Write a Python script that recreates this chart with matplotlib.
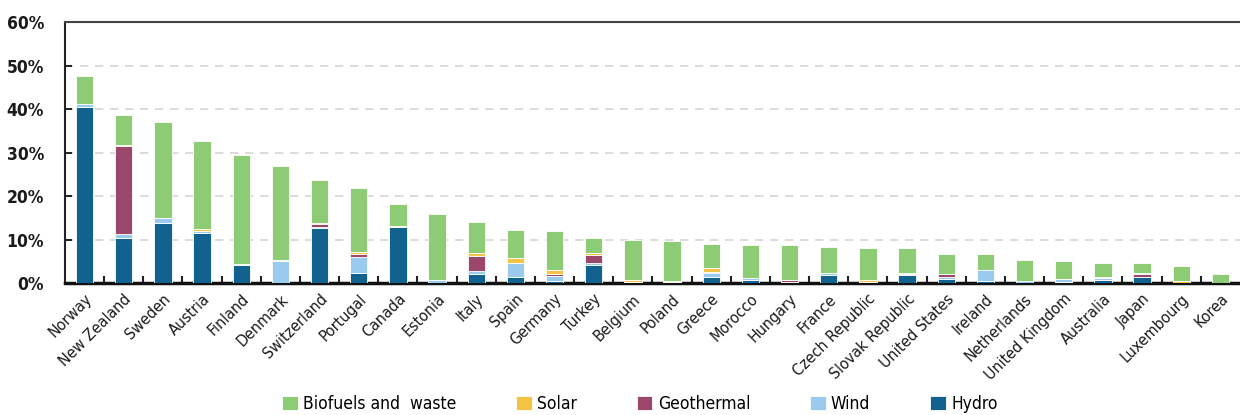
import numpy as np
import matplotlib.pyplot as plt
from matplotlib.ticker import FixedLocator

countries = ['Norway', 'New Zealand', 'Sweden', 'Austria', 'Finland', 'Denmark',
             'Switzerland', 'Portugal', 'Canada', 'Estonia', 'Italy', 'Spain',
             'Germany', 'Turkey', 'Belgium', 'Poland', 'Greece', 'Morocco',
             'Hungary', 'France', 'Czech Republic', 'Slovak Republic',
             'United States', 'Ireland', 'Netherlands', 'United Kingdom',
             'Australia', 'Japan', 'Luxembourg', 'Korea']

# shares of total primary energy supply, %
hydro = [40.5, 10.4, 13.8, 11.5, 4.1, 0.0, 12.7, 2.2, 12.8, 0.0, 2.1, 1.5,
         0.5, 4.1, 0.0, 0.0, 1.5, 0.8, 0.1, 1.8, 0.3, 1.9, 1.0, 0.5, 0.0,
         0.2, 0.8, 1.3, 0.1, 0.1]
wind = [0.6, 0.9, 1.1, 0.4, 0.3, 5.1, 0.1, 3.8, 0.2, 0.7, 0.7, 3.2,
        1.2, 0.6, 0.3, 0.3, 0.9, 0.3, 0.1, 0.4, 0.0, 0.1, 0.4, 2.6, 0.4,
        0.7, 0.3, 0.1, 0.0, 0.0]
geothermal = [0.0, 20.3, 0.0, 0.1, 0.0, 0.0, 0.8, 0.7, 0.0, 0.0, 3.3, 0.0,
              0.3, 1.7, 0.0, 0.0, 0.1, 0.0, 0.5, 0.0, 0.0, 0.0, 0.6, 0.0, 0.0,
              0.0, 0.0, 0.7, 0.0, 0.0]
solar = [0.0, 0.1, 0.0, 0.5, 0.0, 0.3, 0.3, 0.4, 0.0, 0.0, 0.9, 1.0,
         1.0, 0.6, 0.4, 0.1, 0.9, 0.0, 0.0, 0.1, 0.4, 0.3, 0.1, 0.0, 0.1,
         0.1, 0.3, 0.1, 0.4, 0.0]
biofuels = [6.6, 6.9, 22.0, 20.1, 25.1, 21.5, 9.7, 14.8, 5.1, 15.2, 7.0, 6.6,
            8.9, 3.3, 9.3, 9.3, 5.6, 7.6, 8.0, 6.0, 7.3, 5.7, 4.6, 3.6, 4.8,
            4.0, 3.3, 2.5, 3.5, 2.0]

series = [('Hydro', hydro, '#11628f'),
          ('Wind', wind, '#9acbee'),
          ('Geothermal', geothermal, '#9b476c'),
          ('Solar', solar, '#f5c343'),
          ('Biofuels and  waste', biofuels, '#8dcb75')]

plt.rcParams['font.family'] = ['DejaVu Sans']
plt.rcParams['font.stretch'] = 'condensed'

fig = plt.figure(figsize=(12.4, 4.15), dpi=100)
ax = fig.add_axes([0.0524, 0.318, 0.9476, 0.629])

x = np.arange(len(countries))
bottom = np.zeros(len(countries))
handles = {}
for name, vals, col in series:
    vals = np.array(vals)
    b = ax.bar(x, vals, 0.44, bottom=bottom, color=col, edgecolor='white',
               linewidth=0.6, zorder=3, label=name)
    handles[name] = b
    bottom += vals

ax.set_xlim(-0.5, len(countries) - 0.5)
ax.set_ylim(0, 60)
ax.set_yticks(np.arange(0, 61, 10))
ax.set_yticklabels([f'{v}%' for v in range(0, 61, 10)], fontsize=12.5,
                   fontweight='bold', color='#1a1a1a')
ax.yaxis.grid(True, linestyle=(0, (5, 4)), color='#d6d6d6', linewidth=1.2, zorder=0)
ax.tick_params(axis='y', direction='in', length=5, width=1.2, pad=15)

ax.set_xticks(x)
ax.set_xticklabels(countries, rotation=45, ha='right', rotation_mode='anchor',
                   fontsize=11.5, color='#1a1a1a')
ax.tick_params(axis='x', length=0, pad=6)
ax.xaxis.set_minor_locator(FixedLocator(np.arange(0.5, len(countries) - 1, 1)))
ax.tick_params(axis='x', which='minor', direction='in', length=5, width=1.5,
               color='#222222')

ax.spines['right'].set_visible(False)
ax.spines['top'].set_color('#444444')
ax.spines['top'].set_linewidth(1.5)
ax.spines['left'].set_color('#222222')
ax.spines['left'].set_linewidth(1.5)
ax.spines['bottom'].set_color('#111111')
ax.spines['bottom'].set_linewidth(2.5)

order = ['Biofuels and  waste', 'Solar', 'Geothermal', 'Wind', 'Hydro']
fig.legend([handles[n] for n in order], order, loc='center',
           bbox_to_anchor=(0.516, 0.026), ncol=5, frameon=False,
           fontsize=12.5, handlelength=0.9, handleheight=0.9,
           handletextpad=0.3, columnspacing=3.45)

plt.savefig('out.png', dpi=100)
